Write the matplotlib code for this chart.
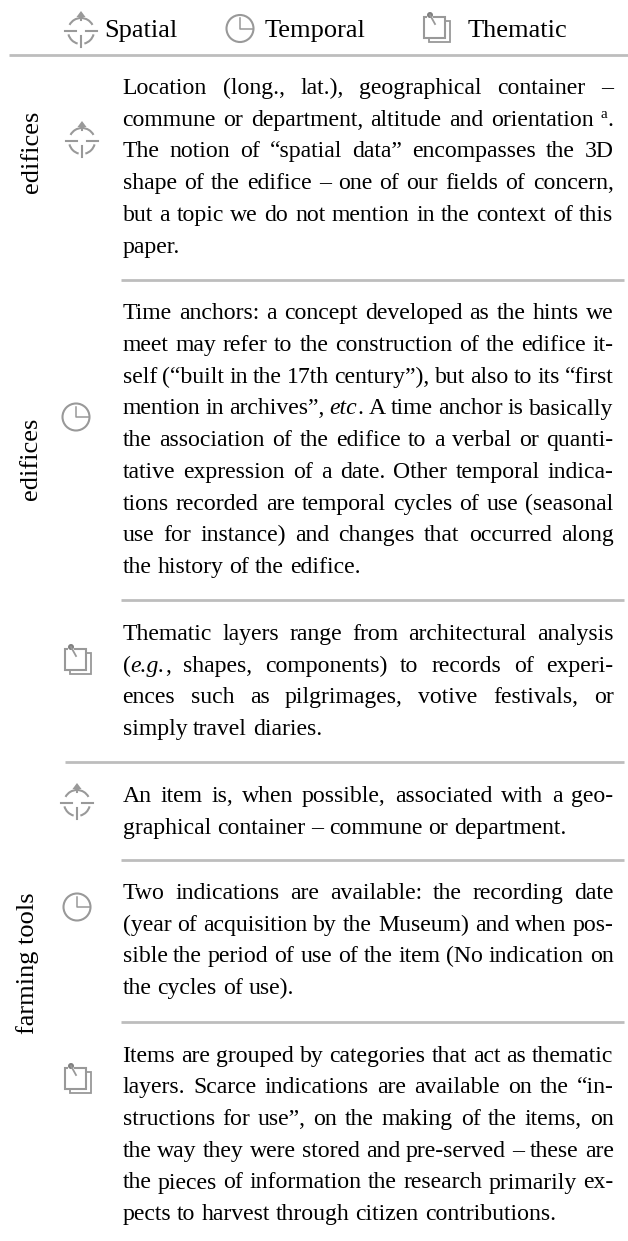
import matplotlib
matplotlib.use("Agg")
import matplotlib.pyplot as plt
from matplotlib.patches import Circle, Arc, Rectangle, Polygon

W, H = 628, 1241
plt.rcParams['font.family'] = ['Liberation Serif', 'DejaVu Sans']
FS = 17.1
FS_H = 19

headers = ["Spatial", "Temporal", "Thematic"]
groups = ["edifices", "edifices", "farming tools"]

text1 = ["Location (long., lat.), geographical container –",
         "commune or department, altitude and orientation ᵃ.",
         "The notion of “spatial data” encompasses the 3D",
         "shape of the edifice – one of our fields of concern,",
         "but a topic we do not mention in the context of this",
         "paper."]
text2 = ["Time anchors: a concept developed as the hints we",
         "meet may refer to the construction of the edifice it-",
         "self (“built in the 17th century”), but also to its “first",
         "mention in archives”, etc. A time anchor is basically",
         "the association of the edifice to a verbal or quanti-",
         "tative expression of a date. Other temporal indica-",
         "tions recorded are temporal cycles of use (seasonal",
         "use for instance) and changes that occurred along",
         "the history of the edifice."]
text3 = ["Thematic layers range from architectural analysis",
         "(e.g., shapes, components) to records of experi-",
         "ences such as pilgrimages, votive festivals, or",
         "simply travel diaries."]
text4 = ["An item is, when possible, associated with a geo-",
         "graphical container – commune or department."]
text5 = ["Two indications are available: the recording date",
         "(year of acquisition by the Museum) and when pos-",
         "sible the period of use of the item (No indication on",
         "the cycles of use)."]
text6 = ["Items are grouped by categories that act as thematic",
         "layers. Scarce indications are available on the “in-",
         "structions for use”, on the making of the items, on",
         "the way they were stored and pre-served – these are",
         "the pieces of information the research primarily ex-",
         "pects to harvest through citizen contributions."]

LEFT, RIGHT, STEP = 122.5, 613.5, 31.7
GREY = "#999999"
RULE = "#bdbdbd"

fig = plt.figure(figsize=(W/100, H/100), dpi=100)
ax = fig.add_axes([0, 0, 1, 1])
ax.set_xlim(0, W); ax.set_ylim(H, 0); ax.axis("off")
rend = fig.canvas.get_renderer()

RUNS = {"(e.g.,": [("(", "normal", 0, FS), ("e.g.", "italic", 0, FS), (",", "normal", 0, FS)],
        "etc.": [("etc", "italic", 0, FS), (".", "normal", 0, FS)],
        "ᵃ.": [("a", "normal", -8, 11), (".", "normal", 0, FS)]}

def width(s, style="normal", fs=FS):
    t = ax.text(0, 0, s, fontsize=fs, style=style)
    w = t.get_window_extent(rend).width
    t.remove()
    return w

def runs(w):
    return RUNS.get(w, [(w, "normal", 0, FS)])

def word_width(w):
    return sum(width(s, st, fs) for s, st, _, fs in runs(w))

def justified(line, y, last):
    words = line.split(" ")
    ws = [word_width(w) for w in words]
    gap = width("a a") - width("aa")
    if not last and len(words) > 1:
        gap = (RIGHT - LEFT - sum(ws)) / (len(words) - 1)
    x = LEFT
    for w, wd in zip(words, ws):
        px = x
        for s, st, dy, fs in runs(w):
            ax.text(px, y + dy, s, fontsize=fs, style=st, va="baseline", ha="left", color="black")
            px += width(s, st, fs)
        x += wd + gap

def icon_s(x, y, r=13):
    for a1, a2 in [(208, 332), (105, 165), (15, 75)]:
        ax.add_patch(Arc((x, y), 2*r, 2*r, theta1=a1, theta2=a2, color=GREY, lw=1.5))
    ax.add_patch(Polygon([[x-4.5, y-r-1], [x, y-r-7], [x+4.5, y-r-1]], closed=True, fc=GREY, ec="none"))
    ax.plot([x, x], [y-r-3, y-r+2], color=GREY, lw=1.5)
    ax.plot([x-r-3, x-r+8], [y, y], color=GREY, lw=1.5)
    ax.plot([x+r-8, x+r+3], [y, y], color=GREY, lw=1.5)
    ax.plot([x, x], [y+r-8, y+r+3], color=GREY, lw=1.5)

def icon_t(x, y, r=13.5):
    ax.add_patch(Circle((x, y), r, fc="none", ec=GREY, lw=1.5))
    ax.plot([x, x, x+r-1], [y-r+3, y, y], color=GREY, lw=1.1)

def icon_m(x, y, s=21):
    ax.add_patch(Rectangle((x+5, y+4), s, s, fc="white", ec=GREY, lw=1.3))
    ax.add_patch(Rectangle((x, y), s, s, fc="white", ec=GREY, lw=1.5))
    ax.add_patch(Rectangle((x+3, y-2), 6, 4, fc="white", ec="none"))
    ax.plot([x+6, x+11], [y-2, y+7], color=GREY, lw=1.3)
    ax.add_patch(Circle((x+6, y-2), 3, fc="#808080", ec="none"))

# header
icon_s(81, 31); ax.text(104, 37, headers[0], fontsize=FS_H, va="baseline")
icon_t(240, 28.5); ax.text(265, 37, headers[1], fontsize=FS_H, va="baseline")
icon_m(424, 17); ax.text(468, 37, headers[2], fontsize=FS_H, va="baseline")

def rule(y, x0, x1=624):
    ax.plot([x0, x1], [y, y], color=RULE, lw=2.0, solid_capstyle="butt")

rule(55, 9, 628)
rule(280, 121); rule(600, 121); rule(762, 65); rule(860, 121); rule(1022, 121)

icon_s(82, 141); icon_t(76, 417); icon_m(65, 649)
icon_s(77, 803); icon_t(77, 907); icon_m(65, 1068)

for lines, y0 in [(text1, 94), (text2, 319.4), (text3, 640),
                  (text4, 802), (text5, 899), (text6, 1061.7)]:
    for i, ln in enumerate(lines):
        justified(ln, y0 + i*STEP, i == len(lines)-1)

for g, x, y in zip(groups, [38, 37, 34], [152, 459, 963]):
    ax.text(x, y, g, rotation=90, fontsize=FS_H, ha="center", va="baseline", rotation_mode="anchor")

fig.savefig("out.png", dpi=100)
